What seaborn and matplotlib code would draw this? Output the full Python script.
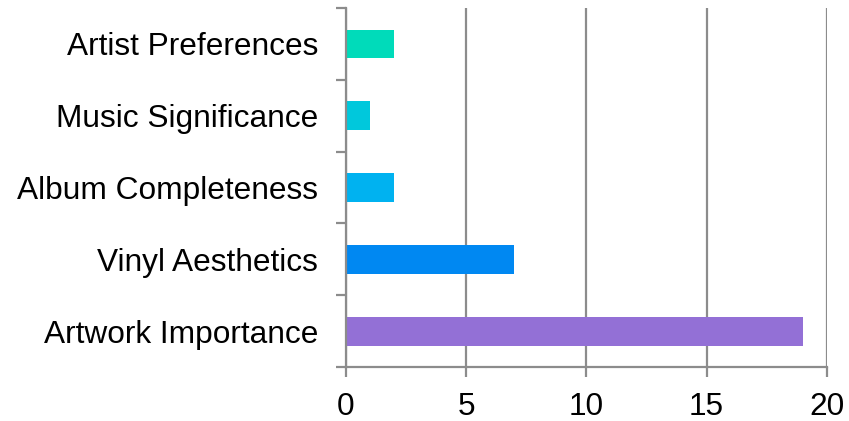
import matplotlib
matplotlib.use("Agg")
import matplotlib.pyplot as plt
import seaborn as sns
import pandas as pd
import numpy as np
from matplotlib.ticker import FixedLocator

categories = ["Artist Preferences", "Music Significance", "Album Completeness",
              "Vinyl Aesthetics", "Artwork Importance"]
values = [2, 1, 2, 7, 19]
colors = ["#00DBBA", "#00C8DC", "#00B2F0", "#0088F2", "#9370D6"]
xticks = [0, 5, 10, 15, 20]

df = pd.DataFrame({"category": categories, "value": values})

sns.set_theme(style="white")
plt.rcParams["font.family"] = ["Liberation Sans", "DejaVu Sans"]

fig = plt.figure(figsize=(8.49, 4.21), dpi=100)
ax = fig.add_axes([0.4075, 0.128, 0.974 - 0.4075, 0.981 - 0.128])

sns.barplot(data=df, y="category", x="value", hue="category", palette=colors,
            order=categories, hue_order=categories, orient="h", width=0.4,
            legend=False, ax=ax, saturation=1, linewidth=0)

ax.set_xlim(0, 20)
ax.set_ylim(4.5, -0.5)
ax.set_xticks(xticks)
ax.set_xlabel("")
ax.set_ylabel("")

grid_c = "#8c8c8c"
ax.xaxis.grid(True, color=grid_c, linewidth=1.6)
ax.set_axisbelow(True)
for s in ["top", "right"]:
    ax.spines[s].set_visible(False)
for s in ["left", "bottom"]:
    ax.spines[s].set_color(grid_c)
    ax.spines[s].set_linewidth(1.6)

ax.tick_params(axis="x", which="major", length=7, width=1.6, color=grid_c,
               pad=11, labelsize=22.8, labelcolor="black", bottom=True)
ax.tick_params(axis="y", which="major", length=0, pad=20, labelsize=22.8,
               labelcolor="black")
ax.yaxis.set_minor_locator(FixedLocator(np.arange(-0.5, 5, 1.0)))
ax.tick_params(axis="y", which="minor", length=7, width=1.6, color=grid_c, left=True)

fig.savefig("out.png", dpi=100)
